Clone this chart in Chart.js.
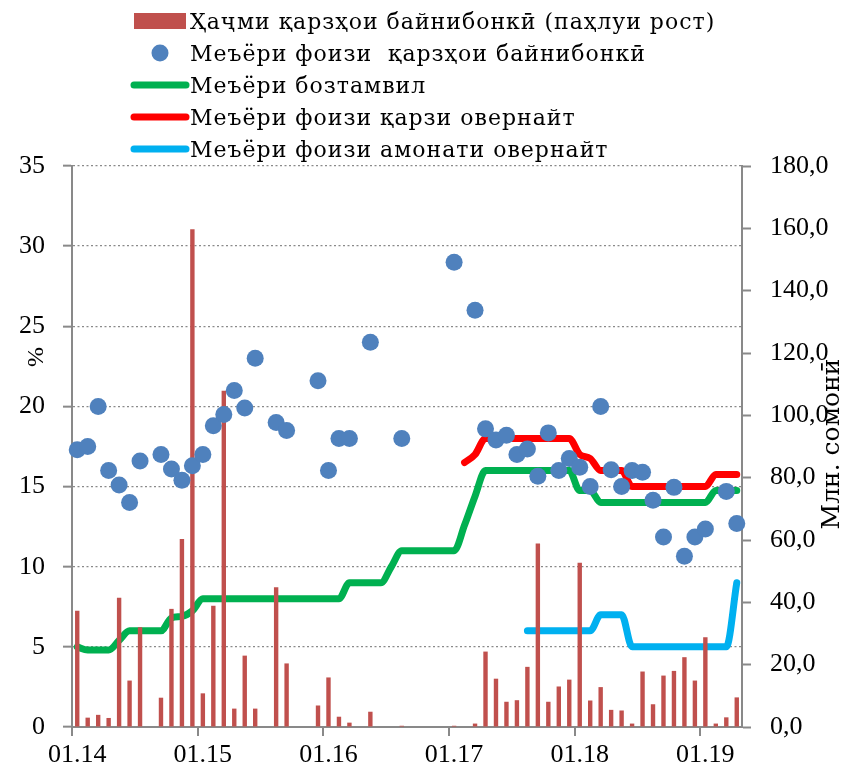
<!DOCTYPE html>
<html><head><meta charset="utf-8">
<script src="https://cdn.jsdelivr.net/npm/chart.js@4"></script>
<style>html,body{margin:0;padding:0;background:#fff;} canvas{display:block;}</style>
</head><body>
<canvas id="c" width="850" height="776"></canvas>
<script>
const months = [
  "01.14","02.14","03.14","04.14","05.14","06.14","07.14","08.14","09.14","10.14","11.14","12.14",
  "01.15","02.15","03.15","04.15","05.15","06.15","07.15","08.15","09.15","10.15","11.15","12.15",
  "01.16","02.16","03.16","04.16","05.16","06.16","07.16","08.16","09.16","10.16","11.16","12.16",
  "01.17","02.17","03.17","04.17","05.17","06.17","07.17","08.17","09.17","10.17","11.17","12.17",
  "01.18","02.18","03.18","04.18","05.18","06.18","07.18","08.18","09.18","10.18","11.18","12.18",
  "01.19","02.19","03.19","04.19"
];
const xTickLabels = ["01.14","01.15","01.16","01.17","01.18","01.19"];

// Right axis, mln somoni
const interbankVolume = [
  37.3, 3.0, 3.9, 2.9, 41.5, 14.9, 32.0, 0, 9.4, 37.9, 60.3, 159.7,
  10.8, 38.9, 107.9, 5.9, 22.9, 5.9, 0, 44.8, 20.4, 0, 0, 6.9,
  15.9, 3.3, 1.4, 0, 4.9, 0, 0, 0.4, 0, 0, 0, 0,
  0.4, 0, 1.1, 24.2, 15.5, 8.1, 8.6, 19.3, 58.9, 8.1, 13.0, 15.2,
  52.7, 8.5, 12.8, 5.5, 5.3, 1.1, 17.8, 7.3, 16.5, 18.0, 22.4, 14.9,
  28.8, 1.1, 3.1, 9.5
];
// Left axis, %
const interbankRate = [
  17.3, 17.5, 20.0, 16.0, 15.1, 14.0, 16.6, null, 17.0, 16.1, 15.4, 16.3,
  17.0, 18.8, 19.5, 21.0, 19.9, 23.0, null, 19.0, 18.5, null, null, 21.6,
  16.0, 18.0, 18.0, null, 24.0, null, null, 18.0, null, null, null, null,
  29.0, null, 26.0, 18.6, 17.9, 18.2, 17.0, 17.35, 15.65, 18.35, 16.0, 16.75,
  16.2, 15.0, 20.0, 16.05, 15.0, 16.0, 15.9, 14.15, 11.85, 14.95, 10.65, 11.85,
  12.35, null, 14.7, 12.7
];
const refinancingRate = [
  5.0, 4.8, 4.8, 4.8, 5.4, 6.0, 6.0, 6.0, 6.0, 6.8, 6.9, 7.25,
  8.0, 8.0, 8.0, 8.0, 8.0, 8.0, 8.0, 8.0, 8.0, 8.0, 8.0, 8.0,
  8.0, 8.0, 9.0, 9.0, 9.0, 9.0, 10.0, 11.0, 11.0, 11.0, 11.0, 11.0,
  11.0, 12.6, 14.4, 16.0, 16.0, 16.0, 16.0, 16.0, 16.0, 16.0, 16.0, 16.0,
  14.75, 14.75, 14.0, 14.0, 14.0, 14.0, 14.0, 14.0, 14.0, 14.0, 14.0, 14.0,
  14.0, 14.75, 14.75, 14.75
];
const overnightCreditRate = [
  null, null, null, null, null, null, null, null, null, null, null, null,
  null, null, null, null, null, null, null, null, null, null, null, null,
  null, null, null, null, null, null, null, null, null, null, null, null,
  null, 16.5, 17.0, 18.0, 18.0, 18.0, 18.0, 18.0, 18.0, 18.0, 18.0, 18.0,
  17.0, 16.75, 16.0, 16.0, 16.0, 15.0, 15.0, 15.0, 15.0, 15.0, 15.0, 15.0,
  15.0, 15.75, 15.75, 15.75
];
const overnightDepositRate = [
  null, null, null, null, null, null, null, null, null, null, null, null,
  null, null, null, null, null, null, null, null, null, null, null, null,
  null, null, null, null, null, null, null, null, null, null, null, null,
  null, null, null, null, null, null, null, 6.0, 6.0, 6.0, 6.0, 6.0,
  6.0, 6.0, 7.0, 7.0, 7.0, 5.0, 5.0, 5.0, 5.0, 5.0, 5.0, 5.0,
  5.0, 5.0, 5.0, 9.0
];
const seriesNames = [
  "Ҳаҷми қарзҳои байнибонкӣ (паҳлуи рост)",
  "Меъёри фоизи  қарзҳои байнибонкӣ",
  "Меъёри бозтамвил",
  "Меъёри фоизи қарзи овернайт",
  "Меъёри фоизи амонати овернайт"
];
const leftTitle = "%";
const rightTitle = "Млн. сомонӣ";

const TICK_FONT = {family: "'Liberation Serif', serif", size: 26};
const LEGEND_FONT = "22px 'DejaVu Serif', serif";
const AXIS_GRAY = '#898989';

const overlayPlugin = {
  id: 'overlay',
  afterDraw(chart) {
    const c = chart.ctx;
    const ds = chart.data.datasets;
    const rows = [21, 53, 85, 117, 149];
    c.save();
    c.font = LEGEND_FONT;
    c.textBaseline = 'alphabetic';
    c.textAlign = 'left';
    ds.forEach((d, k) => {
      const cy = rows[k];
      if (d.type === 'bar') {
        c.fillStyle = d.backgroundColor;
        c.fillRect(134, cy - 8, 52, 16);
      } else if (d.showLine === false) {
        c.fillStyle = d.pointBackgroundColor;
        c.beginPath(); c.arc(160, cy, 8.5, 0, Math.PI * 2); c.fill();
      } else {
        c.strokeStyle = d.borderColor;
        c.lineWidth = 7; c.lineCap = 'round';
        c.beginPath(); c.moveTo(134, cy); c.lineTo(186, cy); c.stroke();
      }
      c.fillStyle = '#000';
      c.letterSpacing = '1px';
      c.fillText(d.label, 190, cy + 8);
      c.letterSpacing = '0px';
    });
    // axis titles (both read bottom-to-top)
    c.textAlign = 'center';
    c.textBaseline = 'middle';
    c.font = "24px 'Liberation Serif', serif";
    c.save(); c.translate(37, 357); c.rotate(-Math.PI / 2); c.fillText(leftTitle, 0, 0); c.restore();
    c.font = "25px 'DejaVu Serif', serif";
    c.save(); c.translate(832, 444); c.rotate(-Math.PI / 2); c.fillText(rightTitle, 0, 0); c.restore();
    c.restore();
  }
};

new Chart(document.getElementById('c'), {
  type: 'bar',
  data: {
    labels: months,
    datasets: [
      {type: 'bar', label: seriesNames[0], data: interbankVolume, yAxisID: 'y1',
       backgroundColor: '#C0504D', categoryPercentage: 1, barPercentage: 0.42, order: 1},
      {type: 'line', label: seriesNames[1], data: interbankRate, yAxisID: 'y', showLine: false,
       pointRadius: 8.5, pointBackgroundColor: '#4F81BD', pointBorderWidth: 0, borderColor: '#4F81BD', order: 0},
      {type: 'line', label: seriesNames[2], data: refinancingRate, yAxisID: 'y', borderColor: '#00B050',
       borderWidth: 7, pointRadius: 0, cubicInterpolationMode: 'monotone', borderCapStyle: 'round', borderJoinStyle: 'round', order: 4},
      {type: 'line', label: seriesNames[3], data: overnightCreditRate, yAxisID: 'y', borderColor: '#FF0000',
       borderWidth: 7, pointRadius: 0, cubicInterpolationMode: 'monotone', borderCapStyle: 'round', borderJoinStyle: 'round', order: 3},
      {type: 'line', label: seriesNames[4], data: overnightDepositRate, yAxisID: 'y', borderColor: '#00B0F0',
       borderWidth: 7, pointRadius: 0, cubicInterpolationMode: 'monotone', borderCapStyle: 'round', borderJoinStyle: 'round', order: 2}
    ]
  },
  options: {
    responsive: false,
    animation: false,
    devicePixelRatio: 1,
    layout: {padding: {top: 166, left: 0, right: 0, bottom: 0}},
    plugins: {legend: {display: false}, tooltip: {enabled: false}},
    scales: {
      x: {
        type: 'category', offset: true,
        grid: {display: true, offset: true, drawOnChartArea: false, drawTicks: true, tickLength: 9, lineWidth: 2,
               tickColor: (ctx) => (ctx.index % 12 === 0 ? AXIS_GRAY : 'rgba(0,0,0,0)')},
        border: {display: true, color: AXIS_GRAY, width: 2},
        ticks: {autoSkip: false, maxRotation: 0, minRotation: 0, padding: 4, color: '#000', font: TICK_FONT,
                callback: (v, i) => (xTickLabels.includes(months[i]) ? months[i] : '')},
        afterFit: (s) => { s.height = 49; }
      },
      y: {
        position: 'left', min: 0, max: 35,
        ticks: {stepSize: 5, padding: 18, color: '#000', font: TICK_FONT},
        grid: {color: '#8a8a8a', lineWidth: 1.3, tickLength: 9, tickColor: AXIS_GRAY, tickWidth: 2},
        border: {display: true, color: AXIS_GRAY, width: 2, dash: [2, 2.5]},
        afterFit: (s) => { s.width = 72; }
      },
      y1: {
        position: 'right', min: 0, max: 180,
        ticks: {stepSize: 20, padding: 19, color: '#000', font: TICK_FONT,
                callback: (v) => v.toFixed(1).replace('.', ',')},
        grid: {drawOnChartArea: false, tickLength: 9, tickColor: AXIS_GRAY, tickWidth: 2, color: AXIS_GRAY},
        border: {display: true, color: AXIS_GRAY, width: 2},
        afterFit: (s) => { s.width = 108; }
      }
    }
  },
  plugins: [overlayPlugin]
});
</script>
</body></html>
